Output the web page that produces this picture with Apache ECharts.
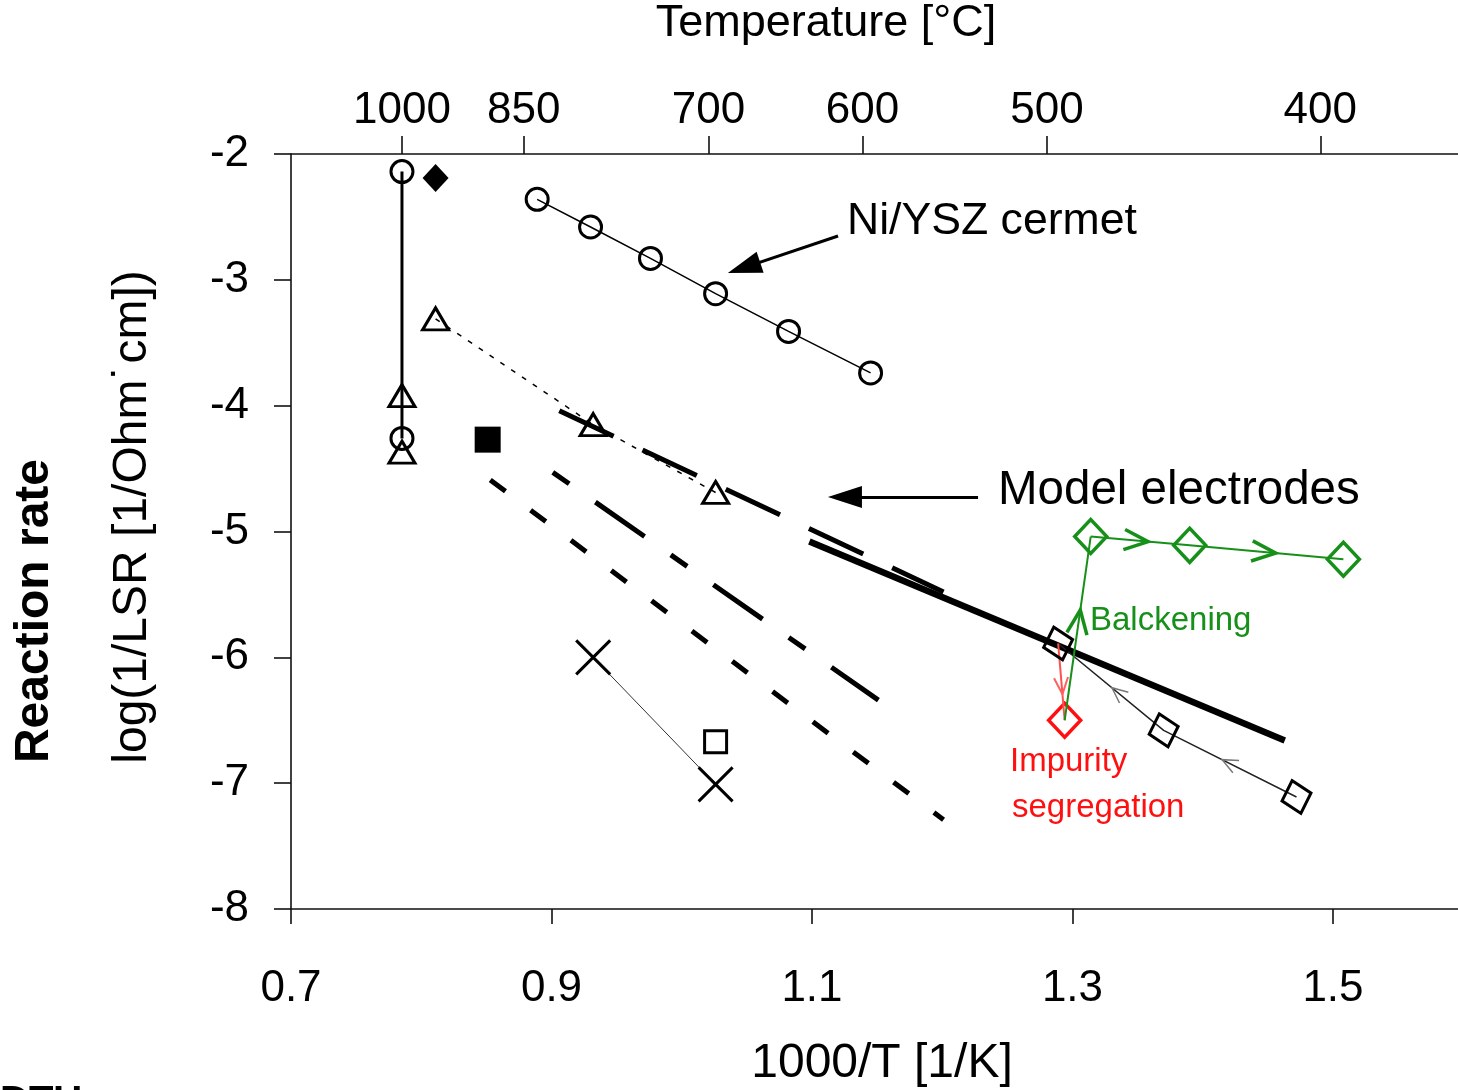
<!DOCTYPE html>
<html>
<head>
<meta charset="utf-8">
<script src="https://cdn.jsdelivr.net/npm/echarts@6/dist/echarts.min.js"></script>
<style>
html,body{margin:0;padding:0;background:#fff;}
#chart{width:1458px;height:1090px;}
</style>
</head>
<body>
<div id="chart"></div>
<script>
// ---------- data ----------
const xTickValues = [0.7, 0.9, 1.1, 1.3, 1.5];
const tempTickLabels = ['1000', '850', '700', '600', '500', '400'];
const tempTickPositions = [0.7852, 0.8787, 1.0205, 1.1388, 1.2804, 1.4903];

// Ni/YSZ cermet
const niYszX = [0.889, 0.930, 0.976, 1.026, 1.082, 1.145];
const niYszY = [-2.36, -2.58, -2.83, -3.11, -3.41, -3.74];

// 1000 C vertical group
const vertCircleX = [0.7852, 0.7852];
const vertCircleY = [-2.14, -4.26];
const vertTriX = [0.7852, 0.7852];
const vertTriY = [-3.92, -4.37];

// dotted triangle series
const triX = [0.811, 0.932, 1.026];
const triY = [-3.31, -4.15, -4.69];

// single markers
const filledDiamond = [[0.811, -2.19]];
const filledSquare = [[0.851, -4.27]];
const openSquare = [[1.026, -6.67]];
const crossX = [0.932, 1.026];
const crossY = [-6.00, -7.01];

// model electrode lines (start, end)
const modelLongDashX = [0.906, 1.201];
const modelLongDashY = [-4.04, -5.48];
const modelSolidX = [1.098, 1.463];
const modelSolidY = [-5.08, -6.66];
const modelDashDotX = [0.901, 1.151];
const modelDashDotY = [-4.53, -6.34];
const modelShortDashX = [0.853, 1.201];
const modelShortDashY = [-4.59, -7.29];

// diamonds
const blackDiaX = [1.289, 1.370, 1.472];
const blackDiaY = [-5.89, -6.58, -7.11];
const greenDiaX = [1.314, 1.390, 1.508];
const greenDiaY = [-5.04, -5.11, -5.22];
const redDiaX = [1.294];
const redDiaY = [-6.50];

// annotation arrows (data coords)
const niArrow = [[1.120, -2.652], [1.0478, -2.903]];
const modelArrow = [[1.2275, -4.726], [1.1253, -4.726]];

// ---------- helpers ----------
const zip = (xs, ys) => xs.map((x, i) => [x, ys[i]]);
const GREEN = '#17901a';
const RED = '#ff1010';
const FONT = 'Liberation Sans, Arial, sans-serif';

function chevron(color, len, half, width) {
  return function (params, api) {
    const p1 = api.coord([api.value(0), api.value(1)]);
    const p2 = api.coord([api.value(2), api.value(3)]);
    const f = api.value(4);
    const cx = p1[0] + (p2[0] - p1[0]) * f;
    const cy = p1[1] + (p2[1] - p1[1]) * f;
    const ang = Math.atan2(p2[1] - p1[1], p2[0] - p1[0]);
    const b1 = [cx - len * Math.cos(ang - half), cy - len * Math.sin(ang - half)];
    const b2 = [cx - len * Math.cos(ang + half), cy - len * Math.sin(ang + half)];
    return {
      type: 'polyline',
      shape: { points: [b1, [cx, cy], b2] },
      style: { stroke: color, lineWidth: width, fill: null, lineJoin: 'miter' }
    };
  };
}

const greenArrowData = [
  [greenDiaX[0], greenDiaY[0], greenDiaX[1], greenDiaY[1], 0.58],
  [greenDiaX[1], greenDiaY[1], greenDiaX[2], greenDiaY[2], 0.56],
  [redDiaX[0], redDiaY[0], greenDiaX[0], greenDiaY[0], 0.60]
];
const redArrowData = [
  [blackDiaX[0], blackDiaY[0], redDiaX[0], redDiaY[0], 0.66]
];
const grayArrowData = [
  [blackDiaX[1], blackDiaY[1], blackDiaX[0], blackDiaY[0], 0.49],
  [blackDiaX[2], blackDiaY[2], blackDiaX[1], blackDiaY[1], 0.56]
];

const crossPath = 'path://M0,0L10,10M10,0L0,10';

const chart = echarts.init(document.getElementById('chart'), null, { renderer: 'canvas' });

const axisLineStyle = { show: true, lineStyle: { color: '#111', width: 1.6 } };
const labelBase = { color: '#000', fontSize: 44, fontFamily: FONT };

const option = {
  backgroundColor: '#fff',
  animation: false,
  grid: { left: 291, right: 0, top: 154, bottom: 181 },
  xAxis: [
    {
      type: 'value', position: 'bottom', min: 0.7, max: 1.596,
      axisLine: axisLineStyle, splitLine: { show: false },
      axisTick: { show: true, inside: false, length: 15, customValues: xTickValues, lineStyle: { color: '#111', width: 1.6 } },
      axisLabel: Object.assign({}, labelBase, {
        margin: 58, customValues: xTickValues,
        formatter: v => Number(v).toFixed(1)
      })
    },
    {
      type: 'value', position: 'top', min: 0.7, max: 1.596,
      axisLine: axisLineStyle, splitLine: { show: false },
      axisTick: { show: true, inside: false, length: 18, customValues: tempTickPositions, lineStyle: { color: '#111', width: 1.6 } },
      axisLabel: Object.assign({}, labelBase, {
        margin: 21, customValues: tempTickPositions,
        formatter: v => {
          const i = tempTickPositions.findIndex(p => Math.abs(p - v) < 1e-6);
          return i >= 0 ? tempTickLabels[i] : '';
        }
      })
    }
  ],
  yAxis: {
    type: 'value', min: -8, max: -2, interval: 1,
    axisLine: axisLineStyle, splitLine: { show: false },
    axisTick: { show: true, inside: false, length: 17, lineStyle: { color: '#111', width: 1.6 } },
    axisLabel: Object.assign({}, labelBase, { margin: 42 })
  },
  graphic: [
    { type: 'text', x: 826, y: 24, style: { text: 'Temperature [°C]', fontSize: 45, fontFamily: FONT, fill: '#000', align: 'center', verticalAlign: 'middle' } },
    { type: 'text', x: 882, y: 1064, style: { text: '1000/T [1/K]', fontSize: 48, fontFamily: FONT, fill: '#000', align: 'center', verticalAlign: 'middle' } },
    { type: 'text', x: 133, y: 517, rotation: Math.PI / 2, style: { text: 'log(1/LSR [1/Ohm˙cm])', fontSize: 48, fontFamily: FONT, fill: '#000', align: 'center', verticalAlign: 'middle' } },
    { type: 'text', x: 35, y: 611, rotation: Math.PI / 2, style: { text: 'Reaction rate', fontSize: 48, fontWeight: 'bold', fontFamily: FONT, fill: '#000', align: 'center', verticalAlign: 'middle' } },
    { type: 'text', x: 847, y: 222, style: { text: 'Ni/YSZ cermet', fontSize: 44.6, fontFamily: FONT, fill: '#000', align: 'left', verticalAlign: 'middle' } },
    { type: 'text', x: 998, y: 491, style: { text: 'Model electrodes', fontSize: 47.5, fontFamily: FONT, fill: '#000', align: 'left', verticalAlign: 'middle' } },
    { type: 'text', x: 1090, y: 621, style: { text: 'Balckening', fontSize: 33, fontFamily: FONT, fill: GREEN, align: 'left', verticalAlign: 'middle' } },
    { type: 'text', x: 1010, y: 762, style: { text: 'Impurity', fontSize: 33, fontFamily: FONT, fill: RED, align: 'left', verticalAlign: 'middle' } },
    { type: 'text', x: 1012, y: 808, style: { text: 'segregation', fontSize: 33, fontFamily: FONT, fill: RED, align: 'left', verticalAlign: 'middle' } },
    { type: 'text', x: 0, y: 1083, style: { text: 'DTU', fontSize: 40, fontWeight: 'bold', fontFamily: FONT, fill: '#000', align: 'left', verticalAlign: 'top' } }
  ],
  series: [
    // model electrode lines
    { name: 'model-long', type: 'line', data: zip(modelLongDashX, modelLongDashY), showSymbol: false, silent: true,
      lineStyle: { color: '#000', width: 5, type: [60, 32], cap: 'butt' } },
    { name: 'model-solid', type: 'line', data: zip(modelSolidX, modelSolidY), showSymbol: false, silent: true,
      lineStyle: { color: '#000', width: 6.5, type: 'solid' } },
    { name: 'model-dashdot', type: 'line', data: zip(modelDashDotX, modelDashDotY), showSymbol: false, silent: true,
      lineStyle: { color: '#000', width: 5, type: [20, 32, 60, 32], cap: 'butt' } },
    { name: 'model-short', type: 'line', data: zip(modelShortDashX, modelShortDashY), showSymbol: false, silent: true,
      lineStyle: { color: '#000', width: 5, type: [19, 31.4], cap: 'butt' } },

    // Ni/YSZ cermet
    { name: 'Ni/YSZ', type: 'line', data: zip(niYszX, niYszY), symbol: 'circle', symbolSize: 22, silent: true,
      lineStyle: { color: '#000', width: 1.5 },
      itemStyle: { color: 'transparent', borderColor: '#000', borderWidth: 3, opacity: 1 } },

    // 1000 C vertical group
    { name: 'vert-circles', type: 'line', data: zip(vertCircleX, vertCircleY), symbol: 'circle', symbolSize: 22, silent: true,
      lineStyle: { color: '#000', width: 3 },
      itemStyle: { color: 'transparent', borderColor: '#000', borderWidth: 3, opacity: 1 } },
    { name: 'vert-tri', type: 'scatter', data: zip(vertTriX, vertTriY), symbol: 'triangle', symbolSize: [26, 22], silent: true,
      itemStyle: { color: '#fff', borderColor: '#000', borderWidth: 3, opacity: 1 } },

    // dotted triangles
    { name: 'tri', type: 'line', data: zip(triX, triY), symbol: 'triangle', symbolSize: [26, 22], silent: true,
      lineStyle: { color: '#000', width: 1.5, type: [5, 8] },
      itemStyle: { color: 'transparent', borderColor: '#000', borderWidth: 3, opacity: 1 } },

    // single markers
    { name: 'filled-diamond', type: 'scatter', data: filledDiamond, symbol: 'diamond', symbolSize: [26, 28], silent: true,
      itemStyle: { color: '#000', opacity: 1 } },
    { name: 'filled-square', type: 'scatter', data: filledSquare, symbol: 'rect', symbolSize: 26, silent: true,
      itemStyle: { color: '#000', opacity: 1 },
      markLine: {
        silent: true, symbol: ['none', 'triangle'], symbolSize: [22, 34], animation: false,
        label: { show: false },
        lineStyle: { color: '#000', width: 3, type: 'solid', opacity: 1 },
        itemStyle: { color: '#000' },
        data: [
          [{ coord: niArrow[0] }, { coord: niArrow[1] }],
          [{ coord: modelArrow[0] }, { coord: modelArrow[1] }]
        ]
      } },
    { name: 'open-square', type: 'scatter', data: openSquare, symbol: 'rect', symbolSize: 22, silent: true,
      itemStyle: { color: 'transparent', borderColor: '#000', borderWidth: 3, opacity: 1 } },
    { name: 'cross', type: 'line', data: zip(crossX, crossY), symbol: crossPath, symbolSize: 34, silent: true,
      lineStyle: { color: '#333', width: 1 },
      itemStyle: { color: 'transparent', borderColor: '#000', borderWidth: 3, opacity: 1 } },

    // black diamonds
    { name: 'black-dia', type: 'line', data: zip(blackDiaX, blackDiaY), symbol: 'diamond', symbolSize: [30, 34], symbolRotate: 15, silent: true,
      lineStyle: { color: '#222', width: 1.5 },
      itemStyle: { color: 'transparent', borderColor: '#000', borderWidth: 3, opacity: 1 } },
    // red segment
    { name: 'red-seg', type: 'line', data: [[blackDiaX[0], blackDiaY[0]], [redDiaX[0], redDiaY[0]]], showSymbol: false, silent: true,
      lineStyle: { color: '#ff5050', width: 2 } },
    // green segment from red to green
    { name: 'green-seg', type: 'line', data: [[redDiaX[0], redDiaY[0]], [greenDiaX[0], greenDiaY[0]]], showSymbol: false, silent: true,
      lineStyle: { color: GREEN, width: 2 } },
    // green diamonds
    { name: 'green-dia', type: 'line', data: zip(greenDiaX, greenDiaY), symbol: 'diamond', symbolSize: [32, 34], silent: true,
      lineStyle: { color: GREEN, width: 2 },
      itemStyle: { color: 'transparent', borderColor: GREEN, borderWidth: 3.5, opacity: 1 } },
    // red diamond
    { name: 'red-dia', type: 'scatter', data: zip(redDiaX, redDiaY), symbol: 'diamond', symbolSize: [32, 34], silent: true,
      itemStyle: { color: 'transparent', borderColor: RED, borderWidth: 3.5, opacity: 1 } },

    // arrowheads
    { name: 'green-arrows', type: 'custom', data: greenArrowData, renderItem: chevron(GREEN, 26, 0.4, 3.5), encode: { x: [0, 2], y: [1, 3] }, silent: true, z: 5 },
    { name: 'red-arrows', type: 'custom', data: redArrowData, renderItem: chevron('#ff6060', 18, 0.4, 2), encode: { x: [0, 2], y: [1, 3] }, silent: true, z: 5 },
    { name: 'gray-arrows', type: 'custom', data: grayArrowData, renderItem: chevron('#777', 17, 0.42, 1.5), encode: { x: [0, 2], y: [1, 3] }, silent: true, z: 5 }
  ]
};

chart.setOption(option);
</script>
</body>
</html>
